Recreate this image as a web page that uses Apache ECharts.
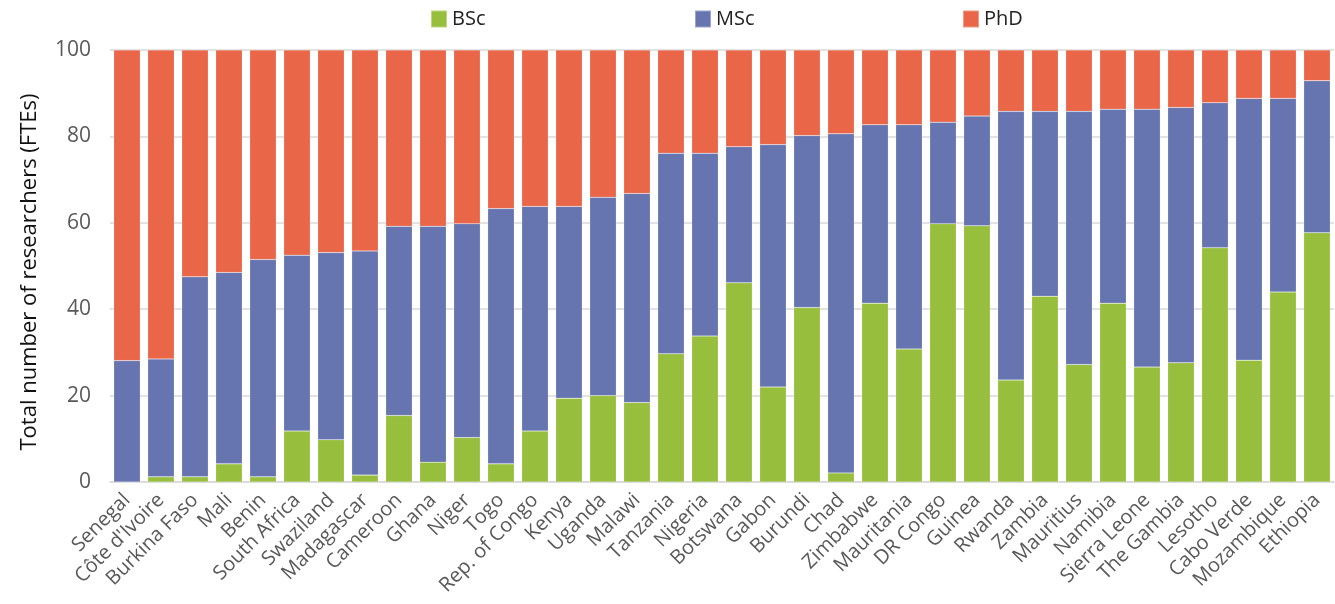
<!DOCTYPE html>
<html><head><meta charset="utf-8">
<script src="https://cdn.jsdelivr.net/npm/echarts@6/dist/echarts.min.js"></script>
<style>html,body{margin:0;padding:0;background:#fff}#c{width:1335px;height:604px}</style>
</head><body><div id="c"></div>
<script>
var countries = ["Senegal","Côte d'Ivoire","Burkina Faso","Mali","Benin","South Africa","Swaziland","Madagascar","Cameroon","Ghana","Niger","Togo","Rep. of Congo","Kenya","Uganda","Malawi","Tanzania","Nigeria","Botswana","Gabon","Burundi","Chad","Zimbabwe","Mauritania","DR Congo","Guinea","Rwanda","Zambia","Mauritius","Namibia","Sierra Leone","The Gambia","Lesotho","Cabo Verde","Mozambique","Ethiopia"];
var bsc = [0,1.2,1.2,4.2,1.2,11.8,9.8,1.6,15.4,4.6,10.3,4.2,11.8,19.4,20.0,18.4,29.7,33.8,46.1,22.0,40.4,2.1,41.4,30.8,59.8,59.3,23.6,43.0,27.2,41.4,26.6,27.6,54.2,28.2,44.0,57.7];
var msc = [28.1,27.3,46.3,44.3,50.3,40.7,43.3,51.9,43.8,54.6,49.5,59.1,52.0,44.4,45.9,48.4,46.4,42.3,31.5,56.1,39.8,78.5,41.3,51.9,23.5,25.4,62.2,42.8,58.6,44.9,59.7,59.1,33.6,60.6,44.8,35.2];
var phd = [71.9,71.5,52.5,51.5,48.5,47.5,46.9,46.5,40.8,40.8,40.2,36.7,36.2,36.2,34.1,33.2,23.9,23.9,22.4,21.9,19.8,19.4,17.3,17.3,16.7,15.3,14.2,14.2,14.2,13.7,13.7,13.3,12.2,11.2,11.2,7.1];
var yTicks = [0,20,40,60,80,100];
var seriesNames = ["BSc","MSc","PhD"];
var colors = ["#97bf3d","#6675b0","#e96648"];

var font = "'Open Sans', 'Noto Sans', sans-serif";
var chart = echarts.init(document.getElementById('c'));
var values = [bsc, msc, phd];
var legendLefts = [430, 694, 962];
chart.setOption({
  animation: false,
  color: colors,
  legend: seriesNames.map(function(n, i){
    return {
      top: 9, left: legendLefts[i], padding: 0,
      itemWidth: 16, itemHeight: 17, icon: 'rect',
      textStyle: {fontFamily: font, fontSize: 20, color: '#222'},
      data: [n]
    };
  }),
  grid: {left: 110, right: 1, top: 50, bottom: 122, containLabel: false},
  xAxis: {
    type: 'category', data: countries,
    axisLine: {lineStyle: {color: '#d9d9d9', width: 1.5}},
    axisTick: {show: false},
    axisLabel: {rotate: 45, interval: 0, color: '#595959', fontFamily: font, fontSize: 20, margin: 15}
  },
  yAxis: {
    type: 'value', min: yTicks[0], max: yTicks[yTicks.length-1], interval: 20,
    name: 'Total number of researchers (FTEs)', nameLocation: 'middle', nameGap: 69,
    nameTextStyle: {fontFamily: font, fontSize: 22, color: '#111', padding: [0,12,0,0]},
    axisLine: {show: false}, axisTick: {show: false},
    axisLabel: {color: '#595959', fontFamily: font, fontSize: 21, margin: 19},
    splitLine: {lineStyle: {color: '#d9d9d9', width: 1.5}}
  },
  series: seriesNames.map(function(n, i){
    return {
      name: n, type: 'bar', stack: 'total', data: values[i],
      barCategoryGap: '22%',
      itemStyle: {color: colors[i], borderColor: 'rgba(255,255,255,0.35)', borderWidth: 0.5}
    };
  })
});
</script></body></html>
